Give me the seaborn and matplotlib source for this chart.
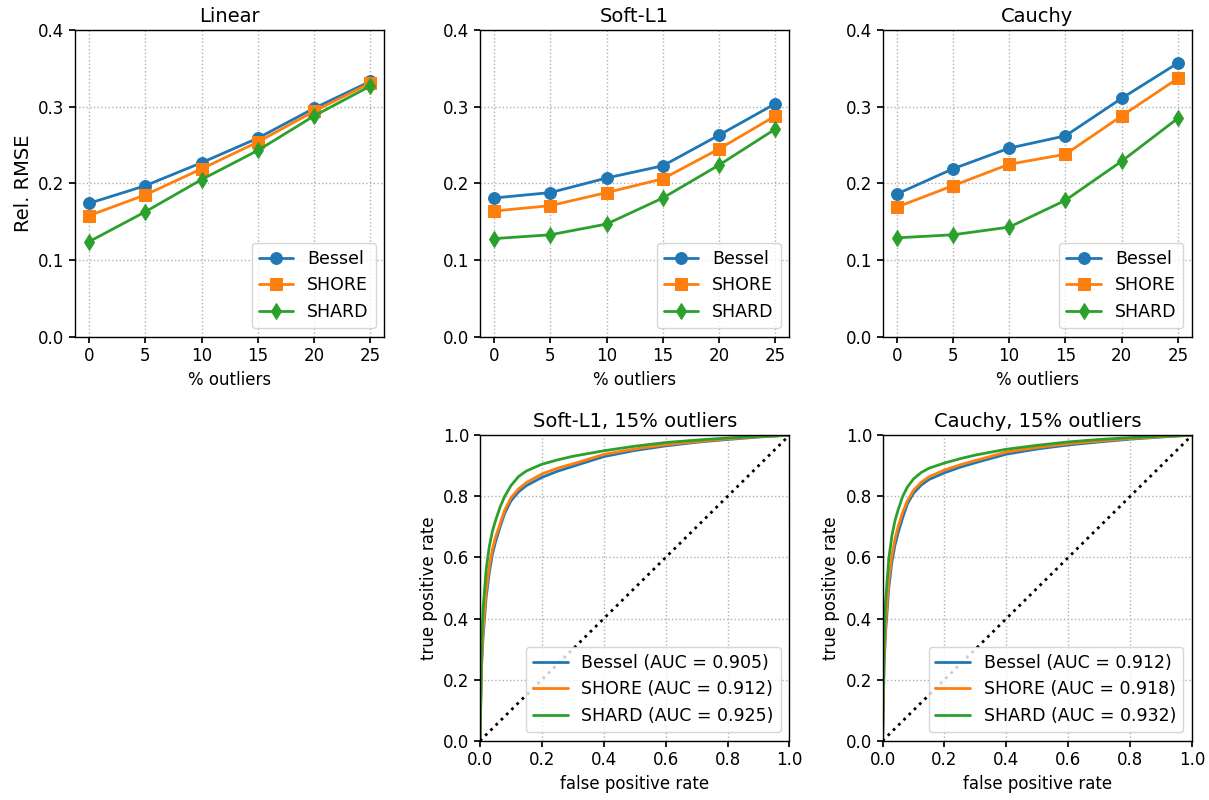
import numpy as np
import pandas as pd
import matplotlib
matplotlib.use("Agg")
import matplotlib.pyplot as plt
import seaborn as sns

# ---- data ----
outliers = [0, 5, 10, 15, 20, 25]
methods = ["Bessel", "SHORE", "SHARD"]

linear_bessel = [0.174, 0.197, 0.227, 0.259, 0.298, 0.333]
linear_shore = [0.158, 0.185, 0.219, 0.254, 0.294, 0.331]
linear_shard = [0.124, 0.163, 0.205, 0.243, 0.288, 0.327]

softl1_bessel = [0.181, 0.188, 0.207, 0.223, 0.263, 0.304]
softl1_shore = [0.164, 0.171, 0.188, 0.206, 0.245, 0.288]
softl1_shard = [0.128, 0.133, 0.147, 0.181, 0.224, 0.271]

cauchy_bessel = [0.186, 0.219, 0.246, 0.262, 0.311, 0.357]
cauchy_shore = [0.169, 0.197, 0.225, 0.238, 0.288, 0.337]
cauchy_shard = [0.129, 0.133, 0.143, 0.178, 0.229, 0.285]

fpr = [0, 0.005, 0.01, 0.02, 0.03, 0.04, 0.05, 0.065, 0.08, 0.1, 0.125, 0.15,
       0.2, 0.25, 0.3, 0.4, 0.5, 0.6, 0.7, 0.8, 0.9, 1.0]
roc_softl1_bessel = [0, 0.24, 0.34, 0.47, 0.55, 0.61, 0.65, 0.70, 0.745, 0.785, 0.815, 0.835,
                     0.862, 0.882, 0.898, 0.930, 0.950, 0.965, 0.977, 0.986, 0.994, 1.0]
roc_softl1_shore = [0, 0.26, 0.36, 0.49, 0.57, 0.625, 0.665, 0.71, 0.755, 0.795, 0.825, 0.845,
                    0.873, 0.892, 0.906, 0.937, 0.955, 0.969, 0.979, 0.988, 0.995, 1.0]
roc_softl1_shard = [0, 0.31, 0.43, 0.56, 0.635, 0.685, 0.72, 0.765, 0.80, 0.835, 0.865, 0.883,
                    0.905, 0.919, 0.931, 0.949, 0.964, 0.976, 0.984, 0.991, 0.996, 1.0]
roc_cauchy_bessel = [0, 0.25, 0.36, 0.50, 0.585, 0.64, 0.68, 0.73, 0.775, 0.81, 0.837, 0.855,
                     0.877, 0.895, 0.910, 0.938, 0.955, 0.968, 0.978, 0.987, 0.994, 1.0]
roc_cauchy_shore = [0, 0.27, 0.385, 0.525, 0.605, 0.66, 0.70, 0.748, 0.785, 0.82, 0.846, 0.864,
                    0.886, 0.903, 0.917, 0.945, 0.960, 0.972, 0.981, 0.989, 0.995, 1.0]
roc_cauchy_shard = [0, 0.33, 0.46, 0.595, 0.67, 0.72, 0.755, 0.80, 0.83, 0.857, 0.878, 0.892,
                    0.909, 0.923, 0.935, 0.954, 0.967, 0.978, 0.986, 0.992, 0.997, 1.0]
auc_softl1 = ["0.905", "0.912", "0.925"]
auc_cauchy = ["0.912", "0.918", "0.932"]

# ---- style ----
sns.set_theme(style="ticks")
plt.rcParams.update({
    "font.family": ["DejaVu Sans"],
    "font.size": 12,
    "axes.titlesize": 14,
    "axes.labelsize": 12,
    "xtick.labelsize": 12,
    "ytick.labelsize": 12,
    "legend.fontsize": 12.5,
    "text.color": "black",
    "axes.labelcolor": "black",
    "axes.edgecolor": "black",
    "axes.linewidth": 1.0,
    "xtick.color": "black",
    "ytick.color": "black",
    "xtick.major.size": 4,
    "ytick.major.size": 4,
    "xtick.direction": "out",
    "ytick.direction": "out",
})

colors = ["#1f77b4", "#ff7f0e", "#2ca02c"]
markers = ["o", "s", "d"]

fig = plt.figure(figsize=(12.09, 8.0), dpi=100)
top_lefts = [0.062, 0.397, 0.730]
w = 0.256
ax_top = [fig.add_axes([l, 0.579, w, 0.3835]) for l in top_lefts]
ax_roc = [fig.add_axes([l, 0.074, w, 0.382]) for l in top_lefts[1:]]

top_data = [
    ("Linear", [linear_bessel, linear_shore, linear_shard]),
    ("Soft-L1", [softl1_bessel, softl1_shore, softl1_shard]),
    ("Cauchy", [cauchy_bessel, cauchy_shore, cauchy_shard]),
]
for i, (ax, (title, series)) in enumerate(zip(ax_top, top_data)):
    for name, vals, c, m in zip(methods, series, colors, markers):
        df = pd.DataFrame({"x": outliers, "y": vals})
        sns.lineplot(data=df, x="x", y="y", ax=ax, color=c, marker=m,
                     markersize=8.5, markeredgecolor=c, linewidth=2, label=name)
    ax.set_ylim(0, 0.4)
    ax.set_xticks(outliers)
    ax.set_yticks([0.0, 0.1, 0.2, 0.3, 0.4])
    ax.set_yticklabels(["0.0", "0.1", "0.2", "0.3", "0.4"])
    ax.grid(True, linestyle=":", color="#b0b0b0", linewidth=1)
    ax.set_title(title)
    ax.set_xlabel("% outliers")
    if i == 0:
        ax.set_ylabel("Rel. RMSE", fontsize=14)
    else:
        ax.set_ylabel("")
    ax.legend(loc="lower right")

roc_data = [
    ("Soft-L1, 15% outliers", [roc_softl1_bessel, roc_softl1_shore, roc_softl1_shard], auc_softl1),
    ("Cauchy, 15% outliers", [roc_cauchy_bessel, roc_cauchy_shore, roc_cauchy_shard], auc_cauchy),
]
for ax, (title, series, aucs) in zip(ax_roc, roc_data):
    for name, vals, c, a in zip(methods, series, colors, aucs):
        df = pd.DataFrame({"x": fpr, "y": vals})
        sns.lineplot(data=df, x="x", y="y", ax=ax, color=c, linewidth=2,
                     label=f"{name} (AUC = {a})", sort=False, estimator=None)
    ax.plot([0, 1], [0, 1], color="black", linestyle=":", linewidth=2)
    ax.set_xlim(0, 1)
    ax.set_ylim(0, 1)
    ticks = [0.0, 0.2, 0.4, 0.6, 0.8, 1.0]
    ax.set_xticks(ticks)
    ax.set_yticks(ticks)
    ax.set_xticklabels([f"{t:.1f}" for t in ticks])
    ax.set_yticklabels([f"{t:.1f}" for t in ticks])
    ax.grid(True, linestyle=":", color="#b0b0b0", linewidth=1)
    ax.set_title(title)
    ax.set_xlabel("false positive rate")
    ax.set_ylabel("true positive rate")
    ax.legend(loc="lower right")

fig.savefig("out.png", dpi=100)
